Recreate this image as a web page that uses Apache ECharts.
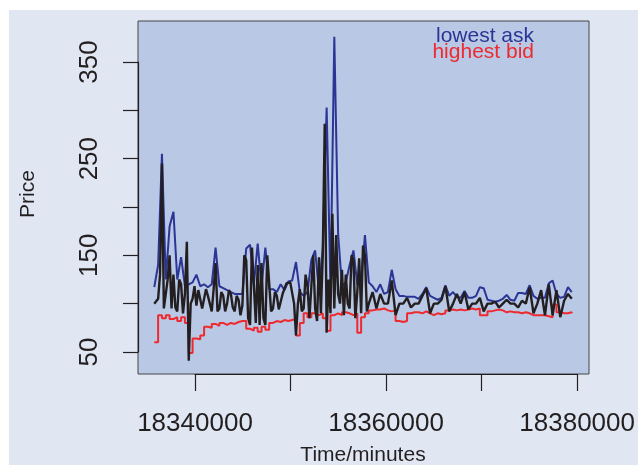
<!DOCTYPE html>
<html>
<head>
<meta charset="utf-8">
<script src="https://cdn.jsdelivr.net/npm/echarts@6/dist/echarts.min.js"></script>
<style>
html,body{margin:0;padding:0;background:#ffffff;}
#chart{width:638px;height:465px;}
</style>
</head>
<body>
<div id="chart"></div>
<script>
// ---- data ----
const startTime = 18335750;      // minutes, first sample
const stepMinutes = 400;         // sampling step of ask/bid and calm part of trades
const denseStepMinutes = 200;    // finer sampling of trades in the busy first half
const askValues = [
117,140,255,125,180,195,125,148,118,120,
122,130,118,120,117,120,158,118,116,114,
112,110,110,110,157,161,120,162,118,158,
115,115,112,120,114,123,124,143,112,108,
112,145,155,112,158,303,115,376,172,118,
122,140,155,120,125,171,122,118,112,120,
110,112,135,115,108,108,107,107,107,105,
110,117,108,106,104,106,119,108,112,107,
106,113,106,106,108,117,116,104,103,102,
103,105,109,104,103,111,111,110,119,108,
105,106,106,121,124,110,106,107,117,112
];
const bidValues = [
60,88,85,88,84,86,82,86,80,49,
64,63,67,76,75,79,77,80,78,80,
79,81,82,82,74,72,75,71,76,73,
80,82,81,83,82,83,84,67,80,90,
86,90,88,90,85,72,88,90,88,91,
90,88,90,70,86,90,93,94,94,95,
93,92,93,82,81,82,90,91,91,90,
92,90,88,90,89,90,93,94,93,94,
93,94,95,94,95,88,88,92,93,94,
93,91,92,91,91,90,91,90,88,88,
88,88,87,86,99,91,90,90,91,90
];
// trades, busy part (every 200 minutes)
const tradeBusyValues = [
100,100,105,130,245,95,110,125,150,95,
130,96,92,125,120,90,110,164,41,100,
105,118,98,114,112,95,96,115,108,100,
92,115,142,92,95,112,108,92,100,114,
110,96,92,108,104,88,98,150,145,85,
78,158,160,80,140,78,142,85,78,150,
148,92,95,112,108,94,96,110,110,121,
121,122,120,100,67,100,115,92,95,130,
118,85,85,150,95,82,148,90,152,286,
70,125,90,193,95,171,110,100,135,88,
130,100,95,150,145,85,112,147,90,160,
150,92,100
];
// trades, calm part (every 400 minutes)
const tradeCalmValues = [
112,95,110,100,100,124,88,100,100,106,
96,100,100,108,116,90,100,100,104,118,
92,100,110,100,112,94,100,100,106,92,
100,100,102,96,100,104,100,100,96,103,
100,117,90,100,114,88,120,88,114,86,
103,110,105
];
const seriesNames = ['lowest ask', 'highest bid', 'trade'];
const xTickLabels = [18340000, 18360000, 18380000];
const yTickLabels = [50, 150, 250, 350];

const times = askValues.map((_, i) => startTime + i * stepMinutes);
const toPairs = vals => vals.map((v, i) => [times[i], v]);
const busyEnd = startTime + (tradeBusyValues.length - 1) * denseStepMinutes;
const tradePairs = tradeBusyValues.map((v, j) => [startTime + j * denseStepMinutes, v])
  .concat(tradeCalmValues.map((v, k) => [busyEnd + (k + 1) * stepMinutes, v]));

const FONT = '"Liberation Sans", Arial, Helvetica, sans-serif';
const chart = echarts.init(document.getElementById('chart'), null, {renderer: 'canvas'});

const option = {
  animation: false,
  backgroundColor: '#ffffff',
  graphic: [
    {type: 'rect', z: -10, shape: {x: 9, y: 10, width: 629, height: 455}, style: {fill: '#e0e7f3'}, silent: true},
    {type: 'text', x: 28, y: 194, rotation: Math.PI / 2, style: {text: 'Price', font: '21px ' + FONT, fill: '#231f20', align: 'center', verticalAlign: 'middle'}},
    {type: 'text', x: 363, y: 455, style: {text: 'Time/minutes', font: '21px ' + FONT, fill: '#231f20', align: 'center', verticalAlign: 'middle'}},
    {type: 'text', x: 534, y: 36, z: 10, style: {text: seriesNames[0], font: '21px ' + FONT, fill: '#2b3595', align: 'right', verticalAlign: 'middle'}},
    {type: 'text', x: 534, y: 52, z: 10, style: {text: seriesNames[1], font: '21px ' + FONT, fill: '#ee2a2e', align: 'right', verticalAlign: 'middle'}}
  ],
  grid: [
    {left: 138, top: 21, right: 49, bottom: 91, show: true, backgroundColor: '#b9c8e5', borderColor: '#444', borderWidth: 1},
    {left: 195, top: 21, right: 60, bottom: 91},
    {left: 138, top: 62, right: 49, bottom: 113}
  ],
  xAxis: [
    {gridIndex: 0, type: 'value', min: 18334049, max: 18381149, show: false},
    {gridIndex: 1, type: 'value', min: 18340000, max: 18380000, interval: 10000, position: 'bottom',
      axisLine: {show: true, lineStyle: {color: '#231f20', width: 1.2}},
      axisTick: {show: true, inside: false, length: 17, lineStyle: {color: '#231f20', width: 1.2}},
      splitLine: {show: false},
      axisLabel: {show: true, margin: 37, color: '#231f20', fontSize: 26, fontFamily: FONT,
        formatter: v => xTickLabels.includes(v) ? String(v) : ''}},
    {gridIndex: 2, type: 'value', show: false}
  ],
  yAxis: [
    {gridIndex: 0, type: 'value', min: 27.2, max: 392.4, show: false},
    {gridIndex: 1, type: 'value', show: false},
    {gridIndex: 2, type: 'value', min: 50, max: 350, interval: 50, position: 'left',
      axisLine: {show: true, lineStyle: {color: '#231f20', width: 1.2}},
      axisTick: {show: true, inside: false, length: 15, lineStyle: {color: '#231f20', width: 1.2}},
      splitLine: {show: false},
      axisLabel: {show: true, rotate: 90, margin: 35, color: '#231f20', fontSize: 26, fontFamily: FONT,
        formatter: v => yTickLabels.includes(v) ? String(v) : ''}}
  ],
  series: [
    {name: seriesNames[0], type: 'line', xAxisIndex: 0, yAxisIndex: 0, showSymbol: false,
      data: toPairs(askValues), lineStyle: {color: '#2b3595', width: 2}, z: 2},
    {name: seriesNames[1], type: 'line', xAxisIndex: 0, yAxisIndex: 0, step: 'end', showSymbol: false,
      data: toPairs(bidValues), lineStyle: {color: '#ee2a2e', width: 2}, z: 3},
    {name: seriesNames[2], type: 'line', xAxisIndex: 0, yAxisIndex: 0, showSymbol: false,
      data: tradePairs, lineStyle: {color: '#231f20', width: 2.4}, z: 4}
  ]
};
chart.setOption(option);
</script>
</body>
</html>
